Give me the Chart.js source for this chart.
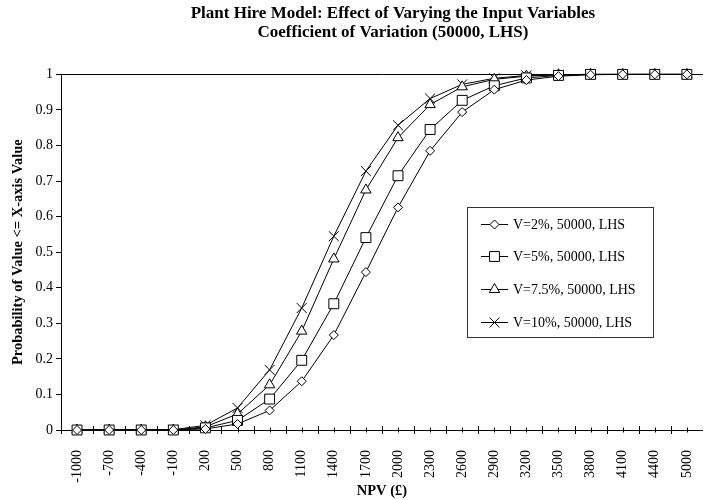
<!DOCTYPE html>
<html>
<head>
<meta charset="utf-8">
<script src="https://cdn.jsdelivr.net/npm/chart.js@4.4.1/dist/chart.umd.min.js"></script>
<style>
  html, body { margin: 0; padding: 0; background: #fff; }
  #wrap { width: 704px; height: 500px; overflow: hidden; }
</style>
</head>
<body>
<div id="wrap"><canvas id="chart" width="716" height="500"></canvas></div>
<script>
// NPV categories (note 4700 is not in the source data)
const npv = ['-1000', '-700', '-400', '-100', '200', '500', '800', '1100', '1400', '1700',
             '2000', '2300', '2600', '2900', '3200', '3500', '3800', '4100', '4400', '5000'];

const v2  = [0, 0, 0, 0, 0.003, 0.017, 0.055, 0.137, 0.267, 0.444, 0.626, 0.785, 0.894, 0.957, 0.984, 0.995, 0.999, 1, 1, 1];
const v5  = [0, 0, 0, 0, 0.006, 0.027, 0.087, 0.196, 0.355, 0.541, 0.715, 0.845, 0.927, 0.968, 0.990, 0.997, 1, 1, 1, 1];
const v75 = [0, 0, 0, 0, 0.009, 0.045, 0.127, 0.278, 0.481, 0.675, 0.822, 0.915, 0.965, 0.986, 0.995, 0.999, 1, 1, 1, 1];
const v10 = [0, 0, 0, 0.001, 0.013, 0.062, 0.169, 0.343, 0.545, 0.728, 0.857, 0.932, 0.972, 0.989, 0.997, 0.999, 1, 1, 1, 1];

const names = ['V=2%, 50000, LHS', 'V=5%, 50000, LHS', 'V=7.5%, 50000, LHS', 'V=10%, 50000, LHS'];
const yTicks = ['0', '0.1', '0.2', '0.3', '0.4', '0.5', '0.6', '0.7', '0.8', '0.9', '1'];

const serif = "'Liberation Serif', 'Times New Roman', serif";

function series(label, data, style, r) {
  return {
    label: label,
    data: data,
    clip: false,
    borderColor: '#000',
    borderWidth: 1,
    pointStyle: style,
    pointRadius: r,
    pointHoverRadius: r,
    pointBorderColor: '#000',
    pointBackgroundColor: '#fff',
    pointBorderWidth: 1,
    tension: 0
  };
}

// crossing tick marks on the category axis: short at categories, longer between them
const axisTicks = {
  id: 'axisTicks',
  afterLayout(chart) {
    // the original title sits a little right of the plot centre
    chart.titleBlock.left += 11;
    chart.titleBlock.right += 11;
  },
  beforeDatasetsDraw(chart) {
    const x = chart.scales.x, y0 = chart.scales.y.getPixelForValue(0);
    const ctx = chart.ctx;
    ctx.save();
    ctx.strokeStyle = '#000';
    ctx.lineWidth = 1;
    ctx.beginPath();
    for (let i = 0; i < npv.length; i++) {
      const p = Math.round(x.getPixelForValue(i)) + 0.5;
      ctx.moveTo(p, y0 - 2.5); ctx.lineTo(p, y0 + 2.5);
      const left = i === 0 ? x.left : (x.getPixelForValue(i - 1) + x.getPixelForValue(i)) / 2;
      const b = Math.round(left) + 0.5;
      ctx.moveTo(b, y0 - 4); ctx.lineTo(b, y0 + 4);
    }
    ctx.stroke();
    ctx.restore();
  }
};

// boxed legend sitting inside the plot area
const boxLegend = {
  id: 'boxLegend',
  afterDraw(chart) {
    const ctx = chart.ctx;
    const bx = 467.5, by = 207.5, bw = 186, bh = 130;
    ctx.save();
    ctx.fillStyle = '#fff';
    ctx.fillRect(bx, by, bw, bh);
    ctx.strokeStyle = '#333';
    ctx.lineWidth = 1;
    ctx.strokeRect(bx, by, bw, bh);
    ctx.font = '14px ' + serif;
    ctx.textBaseline = 'middle';
    ctx.textAlign = 'left';
    chart.data.datasets.forEach((ds, i) => {
      const cy = Math.round(by + 16 + i * 32.8) + 0.5;
      ctx.strokeStyle = '#000';
      ctx.beginPath();
      ctx.moveTo(481, cy); ctx.lineTo(508, cy);
      ctx.stroke();
      ctx.fillStyle = '#fff';
      Chart.helpers.drawPoint(ctx, {
        pointStyle: ds.pointStyle, radius: ds.pointRadius, rotation: 0, borderWidth: 1
      }, 494.5, cy);
      ctx.fillStyle = '#000';
      ctx.fillText(ds.label, 513, cy + 0.5);
    });
    ctx.restore();
  }
};

new Chart(document.getElementById('chart'), {
  type: 'line',
  data: {
    labels: npv,
    datasets: [
      series(names[0], v2, 'rectRot', 4.5),
      series(names[1], v5, 'rect', 7),
      series(names[2], v75, 'triangle', 6),
      series(names[3], v10, 'crossRot', 7)
    ]
  },
  options: {
    responsive: false,
    animation: false,
    layout: { padding: { right: 2.5 } },
    plugins: {
      legend: { display: false },
      tooltip: { enabled: false },
      title: {
        display: true,
        fullSize: false,
        text: ['Plant Hire Model: Effect of Varying the Input Variables', 'Coefficient of Variation (50000, LHS)'],
        color: '#000',
        font: { family: serif, size: 17, weight: 'bold', lineHeight: 1.07 },
        padding: { top: 5, bottom: 33 }
      }
    },
    scales: {
      x: {
        offset: true,
        grid: { display: false },
        border: { display: true, color: '#000', width: 1 },
        ticks: {
          autoSkip: false, minRotation: 90, maxRotation: 90, padding: 12,
          color: '#000', font: { family: serif, size: 14 }
        },
        title: {
          display: true, text: 'NPV (£)', color: '#000',
          font: { family: serif, size: 14.5, weight: 'bold' },
          padding: { top: 0, bottom: 0 }
        },
        afterFit(s) { s.height = 70; }
      },
      y: {
        min: 0, max: 1,
        grid: {
          color: c => (c.tick && c.tick.value === 1 ? '#000' : 'rgba(0,0,0,0)'),
          tickColor: '#000', tickLength: 5, drawTicks: true
        },
        border: { display: true, color: '#000', width: 1 },
        ticks: {
          stepSize: 0.1, padding: 3, color: '#000',
          font: { family: serif, size: 14 },
          callback: (v, i) => yTicks[i]
        },
        title: {
          display: true, text: 'Probability of Value <= X-axis Value', color: '#000',
          font: { family: serif, size: 14.5, weight: 'bold' },
          padding: { top: 10, bottom: 0 }
        },
        afterFit(s) { s.width = 61; }
      }
    }
  },
  plugins: [axisTicks, boxLegend]
});
</script>
</body>
</html>
